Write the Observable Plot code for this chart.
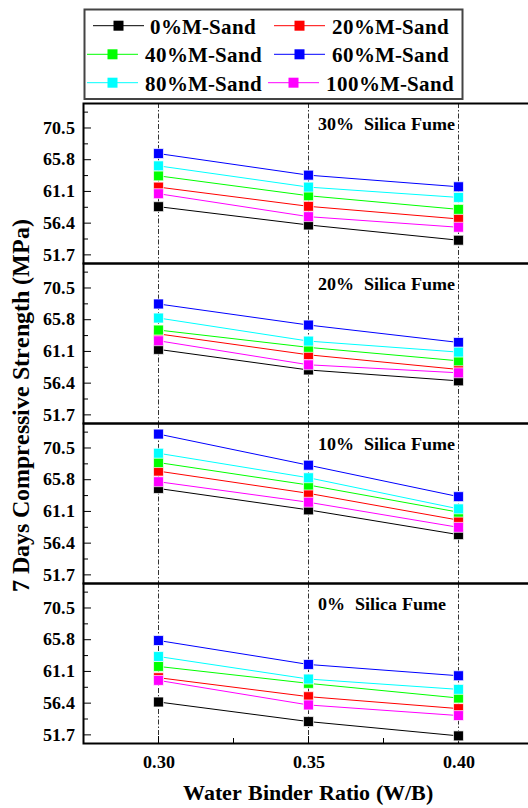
<!DOCTYPE html>
<html><head><meta charset="utf-8">
<script src="https://cdn.jsdelivr.net/npm/d3@7"></script>
<script src="https://cdn.jsdelivr.net/npm/@observablehq/plot@0.6"></script>
<style>
@font-face{font-family:"RefSerif";font-weight:700;src:local("Liberation Serif Bold"),local("LiberationSerif-Bold"),local("Times New Roman Bold"),local("DejaVu Serif Bold"),local("DejaVuSerif-Bold");}
@font-face{font-family:"RefSerif";font-weight:400;src:local("Liberation Serif"),local("LiberationSerif"),local("DejaVu Serif"),local("DejaVuSerif");}
body{margin:0;background:#fff;}
#wrap{position:relative;width:528px;height:808px;overflow:hidden;background:#fff;font-family:RefSerif,"Liberation Serif","DejaVu Serif",serif;}
#chart{position:absolute;left:0;top:100px;}
#overlay{position:absolute;left:0;top:0;pointer-events:none;}
#chart svg text, #overlay text{font-family:RefSerif,"Liberation Serif","DejaVu Serif",serif !important;font-weight:bold;}
</style></head>
<body><div id="wrap"><div id="chart"></div><svg id="overlay" width="528" height="808"></svg></div>
<script>
// ---- data ----
const wb = [0.30, 0.35, 0.40];
const series = ["0%M-Sand", "20%M-Sand", "40%M-Sand", "60%M-Sand", "80%M-Sand", "100%M-Sand"];
const colors = ["#000000", "#ff0000", "#00ff00", "#0000ff", "#00ffff", "#ff00ff"];
const panels = ["30%  Silica Fume", "20%  Silica Fume", "10%  Silica Fume", "0%  Silica Fume"];
const yTicks = [51.7, 56.4, 61.1, 65.8, 70.5];
const yMinor = [54.05, 58.75, 63.45, 68.15, 72.85];
const xMinor = [0.325, 0.375];

// rows: series in order of `series`, values at wb 0.30, 0.35, 0.40
const sf30 = [
  [58.84, 56.13, 53.87],
  [61.74, 58.89, 57.02],
  [63.41, 60.46, 58.44],
  [66.71, 63.51, 61.79],
  [64.89, 61.74, 60.21],
  [60.76, 57.36, 55.79]
];
const sf20 = [
  [61.40, 58.35, 56.74],
  [63.70, 60.60, 58.43],
  [64.27, 61.70, 59.71],
  [68.13, 65.01, 62.43],
  [66.05, 62.63, 61.00],
  [62.68, 59.12, 57.93]
];
const sf10 = [
  [64.50, 61.33, 57.66],
  [67.07, 63.78, 59.81],
  [68.34, 65.01, 60.99],
  [72.56, 67.95, 63.29],
  [69.72, 66.09, 61.48],
  [65.50, 62.46, 58.74]
];
const sf0 = [
  [56.57, 53.67, 51.55],
  [60.17, 57.36, 55.59],
  [61.84, 59.33, 57.16],
  [65.68, 62.13, 60.46],
  [63.31, 59.97, 58.44],
  [59.77, 56.13, 54.56]
];
const panelValues = [sf30, sf20, sf10, sf0];

const rows = [];
panels.forEach((p, pi) => panelValues[pi].forEach((vals, si) =>
  vals.forEach((v, xi) => rows.push({panel: p, series: series[si], wb: wb[xi], value: v}))));

const font = 'RefSerif, "Liberation Serif", "DejaVu Serif", serif';

const chart = Plot.plot({
  width: 528,
  height: 708,
  marginTop: 2,
  marginBottom: 63.3,
  marginLeft: 83,
  marginRight: -5,
  x: {domain: [0.275, 0.425]},
  y: {domain: [50.42, 74.13]},
  fy: {domain: panels, padding: 0, axis: null},
  color: {domain: series, range: colors},
  style: {fontFamily: font, fontWeight: "bold", fontSize: "18px", background: "transparent", color: "black"},
  marks: [
    Plot.ruleX(wb, {stroke: "#333", strokeWidth: 1, strokeDasharray: "5,2,1.5,2"}),
    Plot.axisY(yMinor, {tickSize: -5, tickFormat: () => "", label: null}),
    Plot.axisY(yTicks, {tickSize: -8, tickFormat: () => "", label: null}),
    Plot.axisY(yTicks, {tickSize: 0, tickPadding: 9, tickFormat: d => d.toFixed(1), label: null}),
    Plot.axisX(xMinor, {tickSize: -5, tickFormat: () => "", label: null}),
    Plot.axisX(wb, {tickSize: -7, tickFormat: () => "", label: null}),
    Plot.axisX(wb, {tickSize: 0, tickPadding: 12, tickFormat: d => d.toFixed(2), label: null}),
    Plot.frame({stroke: "black", strokeWidth: 2}),
    Plot.line(rows, {x: "wb", y: "value", z: "series", stroke: "series", fy: "panel", strokeWidth: 1}),
    Plot.dot(rows, {x: "wb", y: "value", fill: "series", fy: "panel", symbol: "square", r: 5.6, stroke: "white", strokeWidth: 0.7}),
    Plot.text(panels, {fy: d => d, x: () => wb[1], text: d => d, frameAnchor: "top", dx: 9, dy: 21,
      textAnchor: "start", lineAnchor: "middle", fontSize: 18, fontWeight: "bold"})
  ]
});
document.getElementById("chart").appendChild(chart);

// ---- legend and titles ----
const svg = d3.select("#overlay");
svg.append("rect").attr("x", 84.5).attr("y", 9.5).attr("width", 378).attr("height", 89.5)
  .attr("fill", "white").attr("stroke", "#444").attr("stroke-width", 2);
// legend layout: [line start x, line y, text x]
const legendLayout = [[93, 25.7, 150], [274, 25.7, 332], [87, 54.3, 145], [274, 54.3, 332], [87, 82.7, 145], [268, 82.7, 326]];
series.forEach((s, i) => {
  const [lx, ly, tx] = legendLayout[i];
  const g = svg.append("g");
  g.append("line").attr("x1", lx).attr("x2", lx + 51).attr("y1", ly).attr("y2", ly)
    .attr("stroke", colors[i]).attr("stroke-width", 1);
  g.append("rect").attr("x", lx + 25.5 - 5).attr("y", ly - 5).attr("width", 10).attr("height", 10)
    .attr("fill", colors[i]);
  g.append("text").attr("x", tx).attr("y", ly + 8).attr("font-size", 21.2).text(s);
});
svg.append("text").attr("transform", "translate(29,405) rotate(-90)").attr("text-anchor", "middle")
  .attr("font-size", 24).text("7 Days Compressive Strength (MPa)");
svg.append("text").attr("x", 308).attr("y", 800).attr("text-anchor", "middle")
  .attr("font-size", 22).text("Water Binder Ratio (W/B)");
</script>
</body></html>
